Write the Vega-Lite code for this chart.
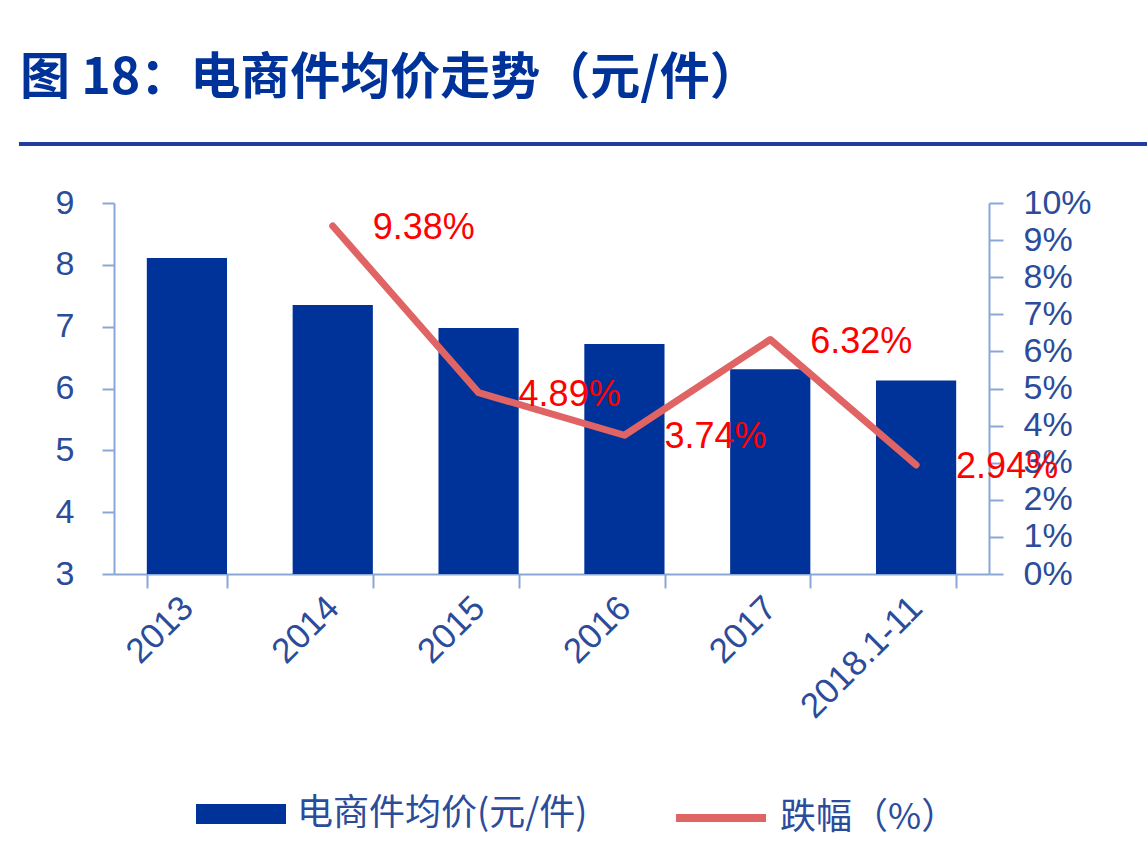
{
  "$schema": "https://vega.github.io/schema/vega-lite/v6.json",
  "background": "white",
  "padding": {"left": 16, "top": 54, "right": 0, "bottom": 0},
  "title": {
    "text": "图 18：电商件均价走势（元/件）",
    "anchor": "start",
    "font": "Noto Sans CJK SC",
    "fontSize": 50,
    "fontWeight": "bold",
    "color": "#003399",
    "offset": 38,
    "dx": 3
  },
  "datasets": {
    "trend": [
      {"year": "2013", "price": 8.11, "rate": null},
      {"year": "2014", "price": 7.35, "rate": 0.0938},
      {"year": "2015", "price": 6.98, "rate": 0.0489},
      {"year": "2016", "price": 6.72, "rate": 0.0374},
      {"year": "2017", "price": 6.31, "rate": 0.0632},
      {"year": "2018.1-11", "price": 6.13, "rate": 0.0294}
    ]
  },
  "spacing": 40,
  "vconcat": [
    {
      "width": 1033,
      "height": 1,
      "data": {"values": [{"start": -0.092, "end": 1, "level": 0}]},
      "mark": {"type": "rule", "color": "#1f3f9c", "strokeWidth": 4},
      "encoding": {
        "x": {"field": "start", "type": "quantitative", "scale": {"domain": [0, 1]}, "axis": null},
        "x2": {"field": "end"},
        "y": {"field": "level", "type": "quantitative", "scale": {"domain": [0, 1]}, "axis": null}
      }
    },
    {
      "width": 875,
      "height": 371,
      "data": {"name": "trend"},
      "encoding": {
        "x": {
          "field": "year",
          "type": "nominal",
          "sort": null,
          "scale": {"paddingInner": 0.45, "paddingOuter": 0.225},
          "axis": {
            "title": null,
            "labelAngle": -45,
            "labelAlign": "right",
            "labelBaseline": "middle",
            "labelPadding": 14,
            "labelFontSize": 35,
            "tickBand": "extent",
            "tickSize": 14
          }
        }
      },
      "layer": [
        {
          "mark": {"type": "bar", "color": "#003399"},
          "encoding": {
            "y": {
              "field": "price",
              "type": "quantitative",
              "scale": {"domain": [3, 9], "zero": false, "nice": false},
              "axis": {
                "title": null,
                "orient": "left",
                "values": [3, 4, 5, 6, 7, 8, 9],
                "tickSize": 12,
                "labelPadding": 28,
                "minExtent": 91,
                "maxExtent": 91
              }
            },
            "y2": {"datum": 3},
            "fill": {
              "datum": "电商件均价(元/件)",
              "type": "nominal",
              "scale": {"range": ["#003399"]},
              "legend": {
                "orient": "none",
                "legendX": 82,
                "legendY": 626,
                "symbolType": "M-1,-0.22L1,-0.22L1,0.22L-1,0.22Z",
                "symbolSize": 8100,
                "symbolStrokeWidth": 0,
                "labelOffset": 11
              }
            }
          }
        },
        {
          "transform": [{"filter": "datum.rate != null"}],
          "encoding": {
            "y": {
              "field": "rate",
              "type": "quantitative",
              "scale": {"domain": [0, 0.1], "nice": false},
              "axis": {
                "title": null,
                "orient": "right",
                "format": ".0%",
                "values": [0, 0.01, 0.02, 0.03, 0.04, 0.05, 0.06, 0.07, 0.08, 0.09, 0.1],
                "tickSize": 14,
                "labelPadding": 20
              }
            }
          },
          "layer": [
            {
              "mark": {"type": "line", "strokeWidth": 7, "strokeCap": "round", "strokeJoin": "round"},
              "encoding": {
                "stroke": {
                  "datum": "跌幅（%）",
                  "type": "nominal",
                  "scale": {"range": ["#e06464"]},
                  "legend": {
                    "orient": "none",
                    "legendX": 558,
                    "legendY": 626,
                    "symbolType": "stroke",
                    "symbolSize": 8100,
                    "symbolStrokeWidth": 8,
                    "labelOffset": 10
                  }
                }
              }
            },
            {
              "mark": {
                "type": "text",
                "align": "left",
                "baseline": "middle",
                "dx": 40,
                "dy": 2,
                "font": "Liberation Sans",
                "fontSize": 36,
                "color": "#ff0000"
              },
              "encoding": {"text": {"field": "rate", "type": "quantitative", "format": ".2%"}}
            }
          ]
        }
      ],
      "resolve": {"scale": {"y": "independent"}}
    }
  ],
  "config": {
    "view": {"stroke": null},
    "axis": {
      "grid": false,
      "domainColor": "#8aa8d6",
      "domainWidth": 2,
      "tickColor": "#8aa8d6",
      "tickWidth": 2,
      "labelColor": "#2b4c9b",
      "labelFont": "Liberation Sans",
      "labelFontSize": 34
    },
    "legend": {
      "title": null,
      "padding": 0,
      "labelFont": "Noto Sans CJK SC",
      "labelFontSize": 36,
      "labelColor": "#2b4c9b",
      "labelLimit": 400
    }
  }
}
